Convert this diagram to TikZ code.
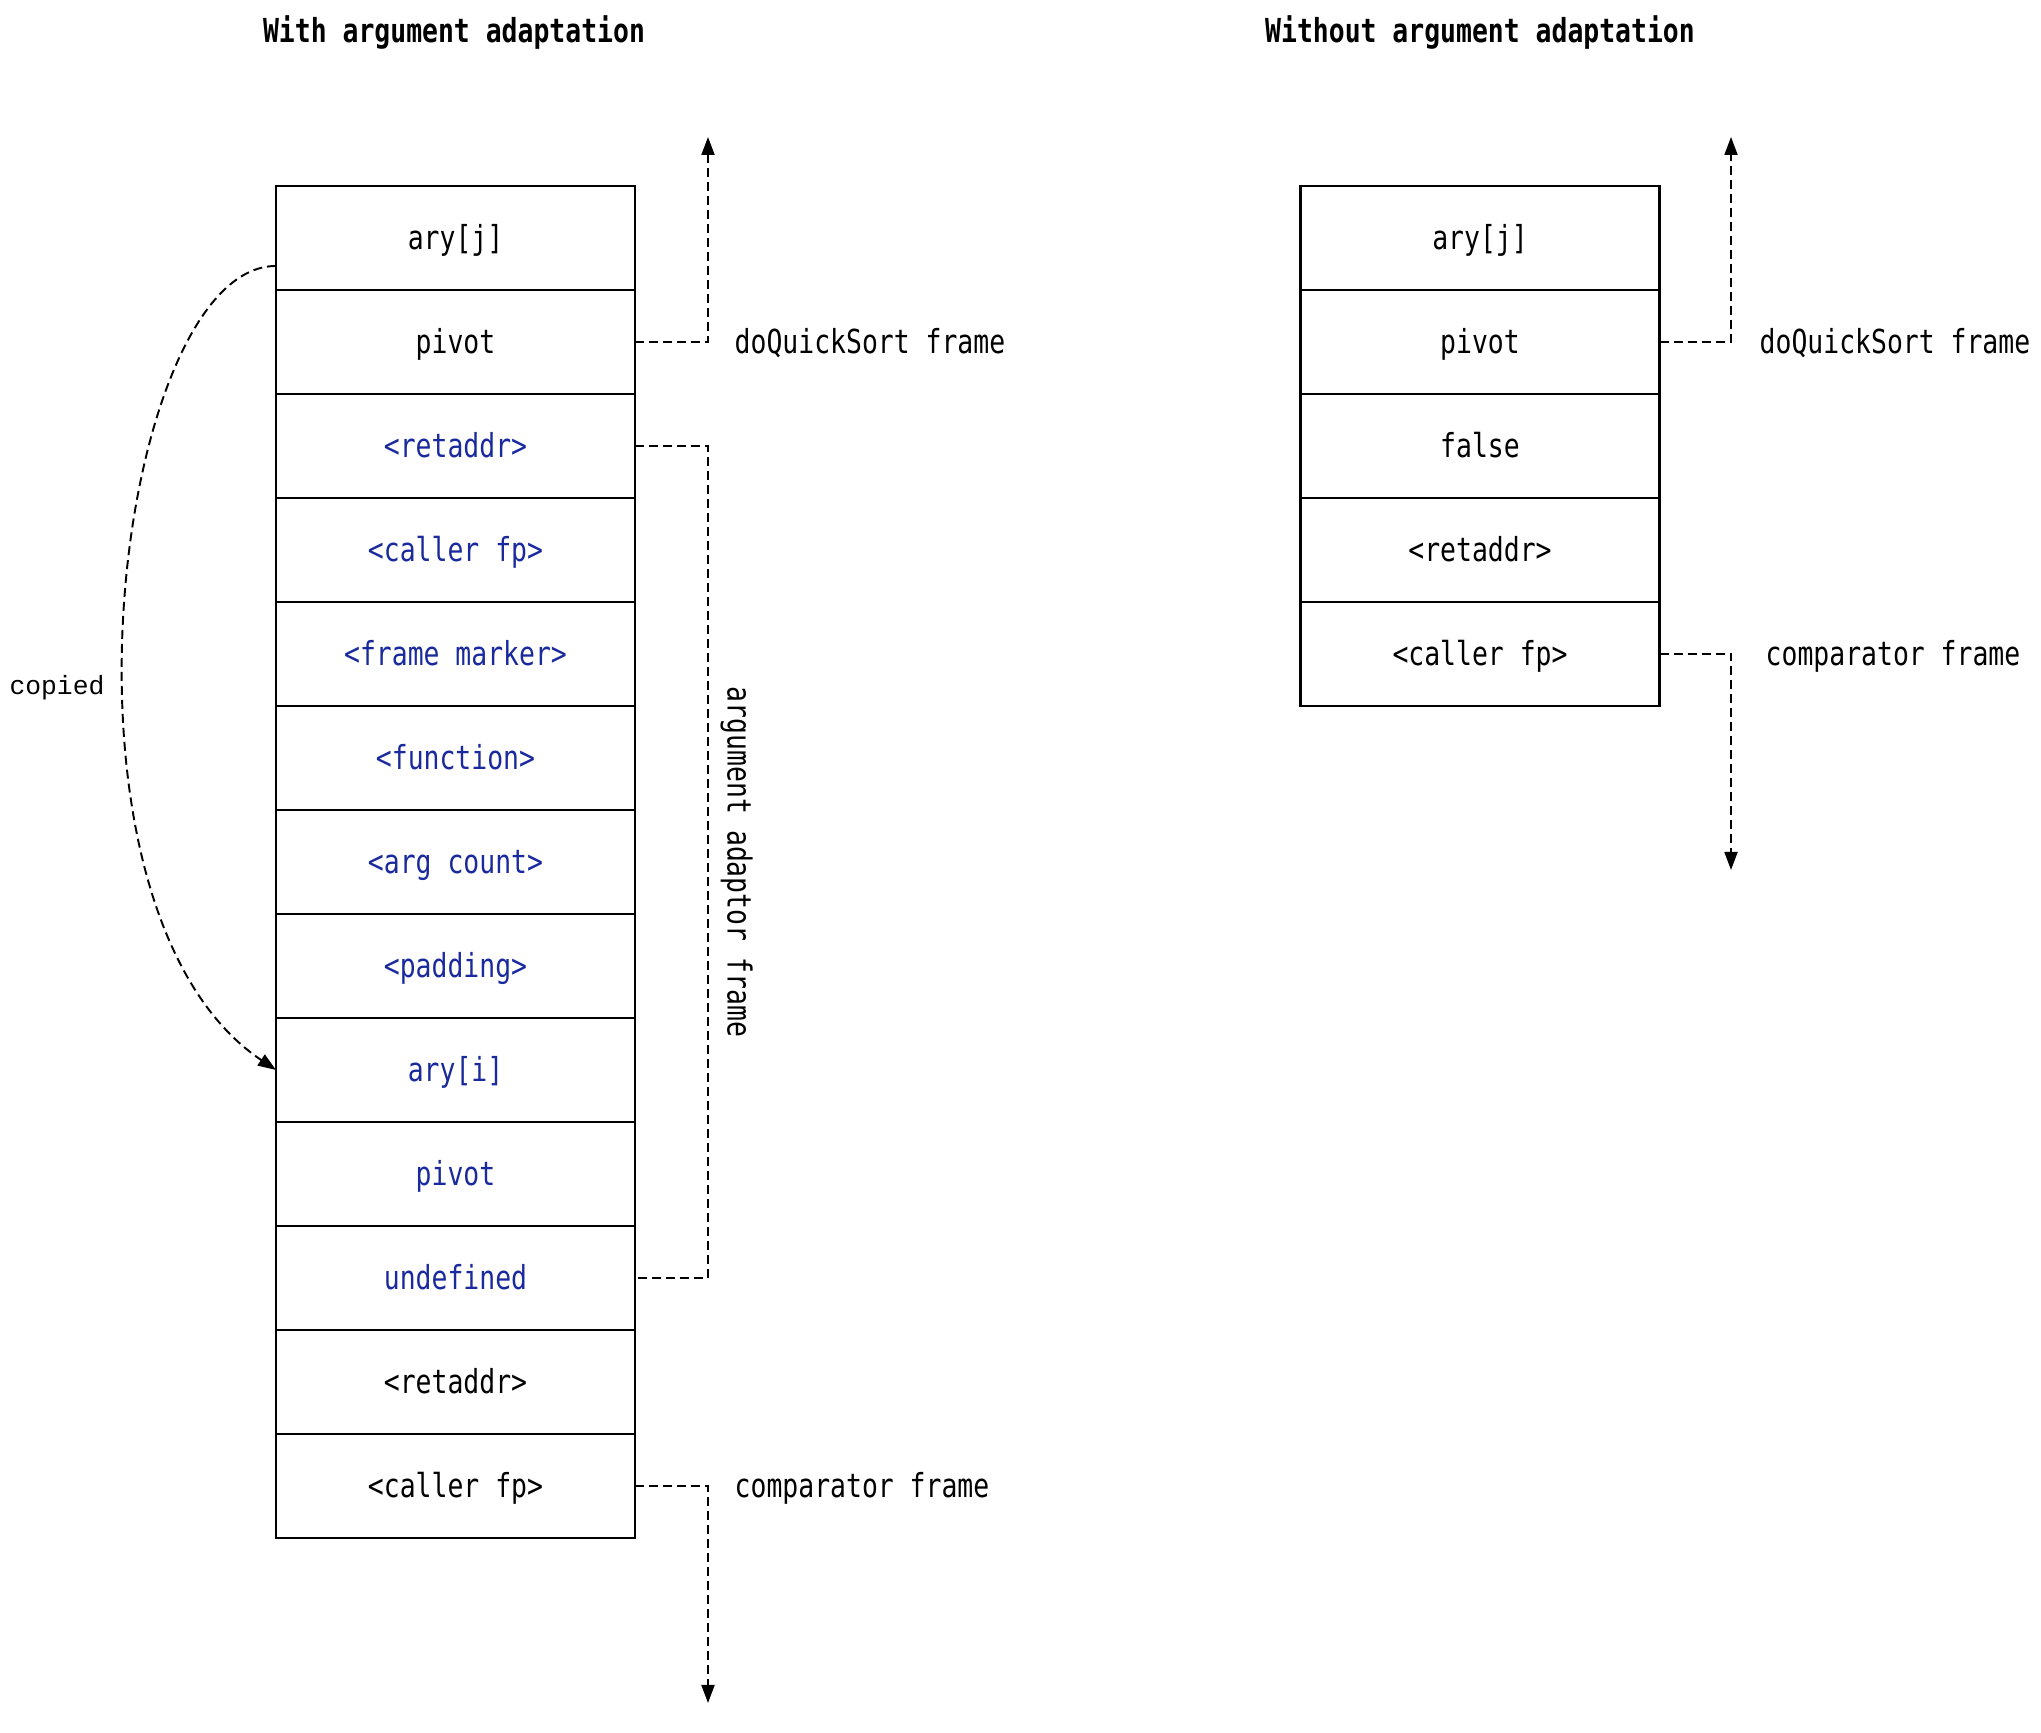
\documentclass[tikz,border=0pt]{standalone}
\usepackage{fontspec}
\usetikzlibrary{positioning,arrows.meta}
\newfontfamily\stackfont[FakeStretch=0.8]{DejaVu Sans Mono}
\newfontfamily\notefont{Liberation Mono}
\definecolor{adaptBlue}{HTML}{1A2A9C}

\tikzset{
  cell/.style={draw, line width=0.7pt, outer sep=0pt, minimum width=3.59cm, minimum height=1.04cm,
    text height=3mm, text depth=0.66mm, font=\stackfont\fontsize{9.4}{11}\selectfont},
  adapt/.style={cell, text=adaptBlue},
  frameline/.style={line width=0.55pt, dash pattern=on 0.9mm off 0.5mm},
  tip/.style={-{Triangle[length=1.8mm,width=1.3mm]}},
  label/.style={font=\stackfont\fontsize{9.4}{11}\selectfont, inner sep=0pt, text height=3mm, text depth=0.66mm},
  title/.style={font=\stackfont\bfseries\fontsize{9.4}{11}\selectfont, text height=3mm, text depth=0.66mm}
}

\begin{document}
\begin{tikzpicture}
\useasboundingbox (0,0) rectangle (20.41,17.33);

\node[title] (wTitle) at (4.54,17.02) {With argument adaptation};
\node[title] (oTitle) at (14.80,17.02) {Without argument adaptation};


\node[cell] (wAryJ) at (4.555,14.95) {ary[j]};
\node[cell, below=0pt of wAryJ] (wPivot) {pivot};
\node[adapt, below=0pt of wPivot] (wRet) {<retaddr>};
\node[adapt, below=0pt of wRet] (wCaller) {<caller fp>};
\node[adapt, below=0pt of wCaller] (wMarker) {<frame marker>};
\node[adapt, below=0pt of wMarker] (wFunc) {<function>};
\node[adapt, below=0pt of wFunc] (wCount) {<arg count>};
\node[adapt, below=0pt of wCount] (wPad) {<padding>};
\node[adapt, below=0pt of wPad] (wAryI) {ary[i]};
\node[adapt, below=0pt of wAryI] (wPivotB) {pivot};
\node[adapt, below=0pt of wPivotB] (wUndef) {undefined};
\node[cell, below=0pt of wUndef] (wRetB) {<retaddr>};
\node[cell, below=0pt of wRetB] (wCallerB) {<caller fp>};


\node[cell] (oAryJ) at (14.80,14.95) {ary[j]};
\node[cell, below=0pt of oAryJ] (oPivot) {pivot};
\node[cell, below=0pt of oPivot] (oFalse) {false};
\node[cell, below=0pt of oFalse] (oRet) {<retaddr>};
\node[cell, below=0pt of oRet] (oCaller) {<caller fp>};


\coordinate (wTop) at (7.08,15.96);
\coordinate (wBot) at (7.08,0.30);
\coordinate (oTop) at (17.31,15.96);
\coordinate (oBot) at (17.31,8.63);

\draw[frameline, tip] (wPivot.east) -| (wTop);
\draw[frameline] (wRet.east) -| (wTop |- wCount) |- (wUndef.east);
\draw[frameline, tip] (wCallerB.east) -| (wBot);

\draw[frameline, tip] (oPivot.east) -| (oTop);
\draw[frameline, tip] (oCaller.east) -| (oBot);

\node[label, anchor=west, xshift=2.6mm] (wQuick) at (wTop |- wPivot) {doQuickSort frame};
\node[label, anchor=west, xshift=2.6mm] (wComp) at (wBot |- wCallerB) {comparator frame};
\node[font=\stackfont\fontsize{9.4}{11}\selectfont, rotate=-90, anchor=south] (wAdapt) at (wTop |- wCount) {argument adaptor frame};

\node[label, anchor=west, xshift=2.8mm] (oQuick) at (oTop |- oPivot) {doQuickSort frame};
\node[label, anchor=west, xshift=3.4mm] (oComp) at (oBot |- oCaller) {comparator frame};


\draw[frameline, tip] ([yshift=-2.8mm]wAryJ.west) .. controls +(-1.6,0) and +(-2.41,1.62) .. (wAryI.west);
\node[font=\notefont\fontsize{7.5}{9}\selectfont] (copied) at (0.57,10.45) {copied};
\end{tikzpicture}
\end{document}
